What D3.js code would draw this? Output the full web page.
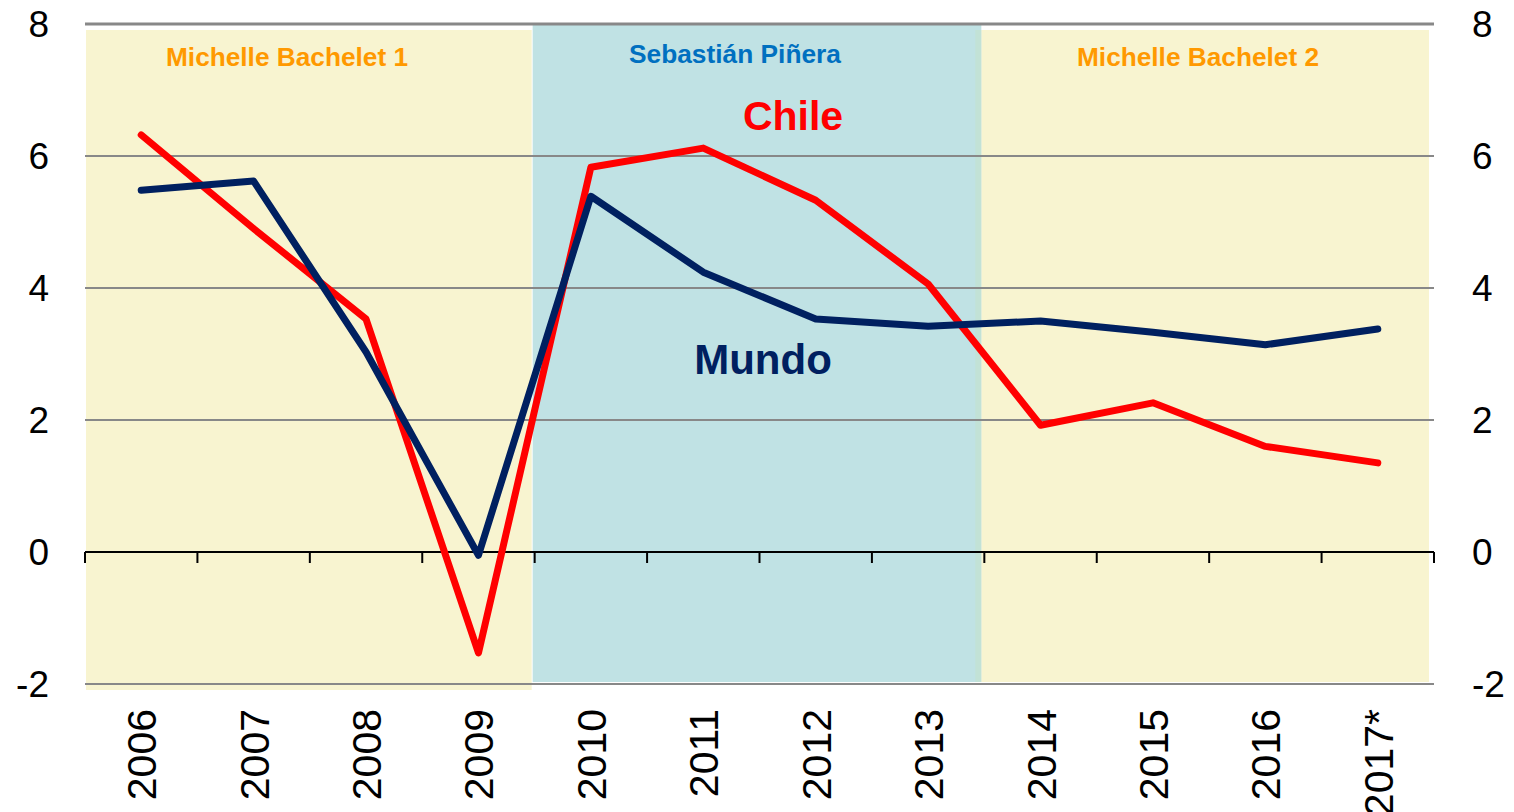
<!DOCTYPE html>
<html><head><meta charset="utf-8">
<script src="https://cdn.jsdelivr.net/npm/d3@7/dist/d3.min.js"></script>
<style>body{margin:0;background:#fff;} svg{display:block;font-family:"Liberation Sans",Arial,sans-serif;}</style>
</head><body><svg id="c" width="1514" height="812"></svg>
<script>
const years = ["2006","2007","2008","2009","2010","2011","2012","2013","2014","2015","2016","2017*"];
const chile = [6.32, 4.9, 3.53, -1.53, 5.83, 6.12, 5.33, 4.06, 1.92, 2.26, 1.6, 1.35];
const mundo = [5.48, 5.62, 3.03, -0.05, 5.39, 4.24, 3.53, 3.42, 3.5, 3.33, 3.14, 3.38];
const yTicks = [-2, 0, 2, 4, 6, 8];
const periods = [
  {name:"Michelle Bachelet 1", from:"2006", to:"2009", color:"#ff9900", fill:"#f8f4d0"},
  {name:"Sebastián Piñera", from:"2010", to:"2013", color:"#0070c0", fill:"#c0e2e4"},
  {name:"Michelle Bachelet 2", from:"2014", to:"2017*", color:"#ff9900", fill:"#f8f4d0"}
];

const svg = d3.select("#c");
const L = 85, R = 1434;
const x = d3.scaleBand().domain(years).range([L, R]);
const y = d3.scaleLinear().domain([-2, 8]).range([684, 24]);
const bw = x.bandwidth();
const p1 = periods[0], p2 = periods[1], p3 = periods[2];

// shaded periods
const g0 = svg.append("g");
g0.append("rect").attr("x", x(p2.from)-2).attr("width", x(p2.to)+bw-x(p2.from)-1)
  .attr("y", y(8)+1).attr("height", y(-2)-y(8)-3).attr("fill", p2.fill);
g0.append("rect").attr("x", x(p1.from)+1).attr("width", x(p1.to)+bw-x(p1.from)-4)
  .attr("y", y(8)+6).attr("height", y(-2)-y(8)).attr("fill", p1.fill);
g0.append("rect").attr("x", x(p3.from)-3).attr("width", x(p3.to)+bw-x(p3.from)-2)
  .attr("y", y(8)+6).attr("height", y(-2)-y(8)-8).attr("fill", p3.fill);
g0.append("rect").attr("x", x(p3.from)-9).attr("width", 6)
  .attr("y", y(8)+6).attr("height", y(-2)-y(8)-8).attr("fill", "#c2e2d6");

// gridlines
svg.append("g").selectAll("line").data(yTicks.filter(d=>d!==0)).join("line")
  .attr("x1", L).attr("x2", R).attr("y1", d=>y(d)).attr("y2", d=>y(d))
  .attr("stroke", "#888").attr("stroke-width", d=>d===8?3:2);

// zero axis with ticks at band boundaries
svg.append("line").attr("x1", L).attr("x2", R).attr("y1", y(0)).attr("y2", y(0))
  .attr("stroke", "#000").attr("stroke-width", 2);
const bounds = years.map(d=>x(d)).concat([R]);
svg.append("g").selectAll("line").data(bounds).join("line")
  .attr("x1", d=>d).attr("x2", d=>d).attr("y1", y(0)).attr("y2", y(0)+11)
  .attr("stroke", "#000").attr("stroke-width", 2);

// y labels left & right
const yl = svg.append("g").attr("font-size", 37).attr("fill", "#000");
yl.selectAll("text.l").data(yTicks).join("text").attr("class","l")
  .attr("x", 49).attr("y", d=>y(d)+13).attr("text-anchor", "end").text(d=>d);
yl.selectAll("text.r").data(yTicks).join("text").attr("class","r")
  .attr("x", 1472).attr("y", d=>y(d)+13).attr("text-anchor", "start").text(d=>d);

// x labels rotated
svg.append("g").selectAll("text").data(years).join("text")
  .attr("transform", d=>`translate(${x(d)+bw/2+15},709) rotate(-90)`)
  .attr("text-anchor", "end").attr("font-size", 41).text(d=>d);

// lines
const line = d3.line().x((d,i)=>x(years[i])+bw/2).y(d=>y(d));
svg.append("path").datum(chile).attr("d", line).attr("fill","none")
  .attr("stroke","#ff0000").attr("stroke-width",7).attr("stroke-linejoin","round").attr("stroke-linecap","round");
svg.append("path").datum(mundo).attr("d", line).attr("fill","none")
  .attr("stroke","#002060").attr("stroke-width",7).attr("stroke-linejoin","round").attr("stroke-linecap","round");

// period labels
const labelX = [287, 735, 1198];
svg.append("g").selectAll("text").data(periods).join("text")
  .attr("x", (d,i)=>labelX[i])
  .attr("y", (d,i)=>i===1?63:66)
  .attr("text-anchor","middle").attr("font-size",26).attr("font-weight","bold")
  .attr("textLength", (d,i)=>i===1?212:242).attr("lengthAdjust","spacingAndGlyphs")
  .attr("fill", d=>d.color).text(d=>d.name);

// series labels
svg.append("text").attr("x", 793).attr("y", 130).attr("text-anchor","middle")
  .attr("font-size",41).attr("font-weight","bold").attr("fill","#ff0000").text("Chile");
svg.append("text").attr("x", 763).attr("y", 374).attr("text-anchor","middle")
  .attr("font-size",42).attr("font-weight","bold").attr("fill","#002060").text("Mundo");
</script></body></html>
